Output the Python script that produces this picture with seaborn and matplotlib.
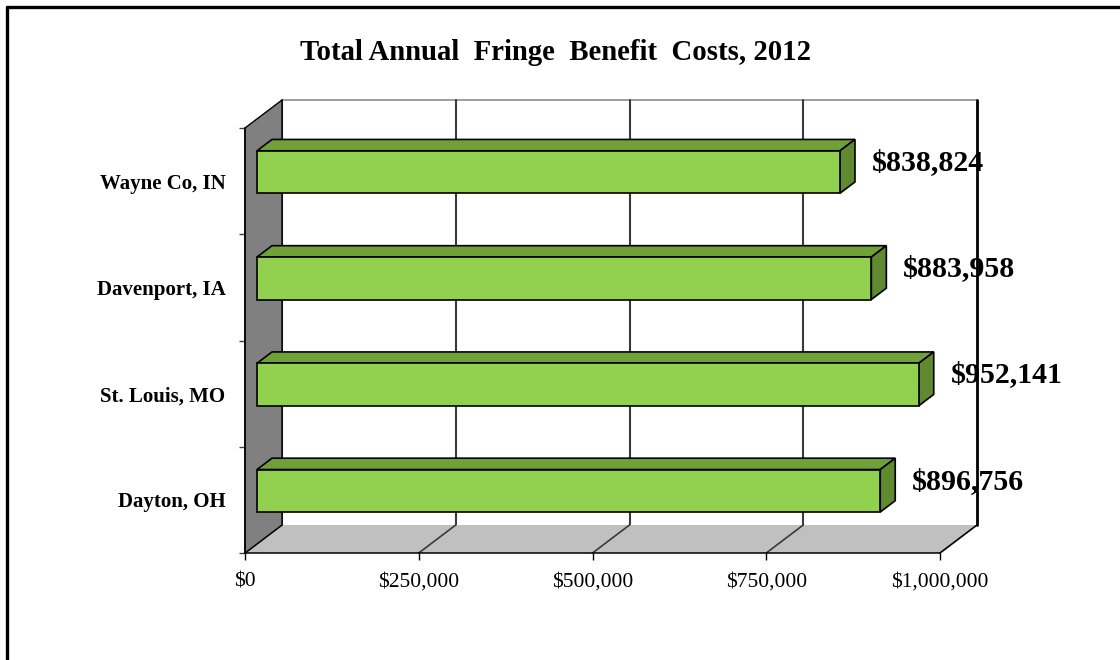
import matplotlib
matplotlib.use("Agg")
import matplotlib.pyplot as plt
import seaborn as sns
import pandas as pd
import numpy as np
from matplotlib.patches import Polygon
from matplotlib.lines import Line2D
from matplotlib.ticker import FuncFormatter

# ---- data ----
cities = ["Wayne Co, IN", "Davenport, IA", "St. Louis, MO", "Dayton, OH"]
costs = [838824, 883958, 952141, 896756]
x_ticks = [0, 250000, 500000, 750000, 1000000]
title = "Total Annual  Fringe  Benefit  Costs, 2012"

# ---- colours ----
FRONT = "#92D050"
TOP = "#70A03A"
SIDE = "#5F8A30"
WALL = "#808080"
FLOOR = "#C0C0C0"
GRID = "#3A3A3A"

sns.set_theme(style="white")
plt.rcParams["font.family"] = ["Liberation Serif", "DejaVu Serif"]
plt.rcParams["text.color"] = "black"
plt.rcParams["axes.labelcolor"] = "black"
plt.rcParams["xtick.color"] = "black"
plt.rcParams["ytick.color"] = "black"

W, H, DPI = 1120, 660, 100
fig = plt.figure(figsize=(W / DPI, H / DPI), dpi=DPI)
fig.patch.set_facecolor("white")

# front plane of the plot box (pixels)
L, R, B, T = 245, 940, 107, 532
ax = fig.add_axes([L / W, B / H, (R - L) / W, (T - B) / H])
ax.set_facecolor("none")

df = pd.DataFrame({"city": cities, "cost": costs})
sns.barplot(data=df, x="cost", y="city", orient="h", width=0.4,
            color=FRONT, saturation=1, edgecolor="black", linewidth=1.2,
            ax=ax, zorder=6)

n = len(cities)
xmax = x_ticks[-1]
ax.set_xlim(0, xmax)
ax.set_ylim(n - 0.5, -0.5)

# depth of the box, converted to data units
DEPTH_PX = (37, 28)
dx = DEPTH_PX[0] * xmax / (R - L)
dy = DEPTH_PX[1] * n / (T - B)


def shift(x, y, f):
    return (x + f * dx, y - f * dy)


y_lo, y_hi = -0.5, n - 0.5

# back wall
ax.add_patch(Polygon([shift(0, y_lo, 1), shift(xmax, y_lo, 1),
                      shift(xmax, y_hi, 1), shift(0, y_hi, 1)],
                     closed=True, facecolor="white", edgecolor="none",
                     zorder=0.5, clip_on=False))
ax.add_line(Line2D(*zip(shift(0, y_lo, 1), shift(xmax, y_lo, 1)),
                   color="#8C8C8C", lw=1.2, zorder=0.8, clip_on=False))
for xt in x_ticks:
    lw = 2.0 if xt == xmax else 1.5
    col = "black" if xt == xmax else GRID
    ax.add_line(Line2D(*zip(shift(xt, y_lo, 1), shift(xt, y_hi, 1)),
                       color=col, lw=lw, zorder=1, clip_on=False))

# floor
ax.add_patch(Polygon([(0, y_hi), (xmax, y_hi), shift(xmax, y_hi, 1), shift(0, y_hi, 1)],
                     closed=True, facecolor=FLOOR, edgecolor="none",
                     zorder=1.2, clip_on=False))
for xt in x_ticks:
    col = "black" if xt == xmax else GRID
    ax.add_line(Line2D(*zip((xt, y_hi), shift(xt, y_hi, 1)),
                       color=col, lw=1.2, zorder=1.3, clip_on=False))

# left wall
ax.add_patch(Polygon([(0, y_lo), shift(0, y_lo, 1), shift(0, y_hi, 1), (0, y_hi)],
                     closed=True, facecolor=WALL, edgecolor="black", lw=1.0,
                     zorder=1.5, clip_on=False))

# bars: front faces from seaborn, plus top and side faces
f0, f1 = 12 / 37, 27 / 37
bars = [pp for pp in ax.patches if pp.get_zorder() == 6]
for p in bars:
    x0, y0, w, h = p.get_x(), p.get_y(), p.get_width(), p.get_height()
    p.set_x(x0 + f0 * dx)
    p.set_y(y0 - f0 * dy)
    p.set_clip_on(False)
    top = [shift(x0, y0, f0), shift(x0 + w, y0, f0),
           shift(x0 + w, y0, f1), shift(x0, y0, f1)]
    side = [shift(x0 + w, y0, f0), shift(x0 + w, y0 + h, f0),
            shift(x0 + w, y0 + h, f1), shift(x0 + w, y0, f1)]
    ax.add_patch(Polygon(top, closed=True, facecolor=TOP, edgecolor="black",
                         lw=1.2, zorder=5, clip_on=False))
    ax.add_patch(Polygon(side, closed=True, facecolor=SIDE, edgecolor="black",
                         lw=1.2, zorder=5, clip_on=False))
    ax.annotate(f"${w:,.0f}", xy=shift(x0 + w, y0 + h / 2, f0),
                xytext=(23, 7), textcoords="offset points",
                ha="left", va="center", fontsize=21.5, fontweight="bold",
                color="black", zorder=8, annotation_clip=False)

# axes styling
for s in ("top", "right"):
    ax.spines[s].set_visible(False)
for s in ("left", "bottom"):
    ax.spines[s].set_color("black")
    ax.spines[s].set_linewidth(1.1)
    ax.spines[s].set_zorder(3)

ax.set_xlabel("")
ax.set_ylabel("")
ax.set_xticks(x_ticks)
ax.xaxis.set_major_formatter(FuncFormatter(lambda v, _: f"${v:,.0f}"))
ax.tick_params(axis="x", length=5, width=1, color="black", pad=9,
               labelsize=15.5, bottom=True, labelcolor="black")
ax.set_yticks(range(n))
ax.set_yticklabels(cities, fontsize=15, fontweight="bold", color="black")
ax.tick_params(axis="y", which="major", length=0, pad=14)
ax.set_yticks(np.arange(y_lo, y_hi + 0.5, 1), minor=True)
ax.tick_params(axis="y", which="minor", length=4, width=1, color="#404040", left=True)

fig.text(556 / W, 1 - 60 / H, title, ha="center", va="baseline",
         fontsize=20.7, fontweight="bold", color="black")

# outer frame
fig.add_artist(Line2D([7 / W, 1], [1 - 7 / H, 1 - 7 / H], color="black",
                      lw=2.4, transform=fig.transFigure))
fig.add_artist(Line2D([7 / W, 7 / W], [0, 1 - 7 / H], color="black",
                      lw=2.4, transform=fig.transFigure))

fig.savefig("out.png", dpi=DPI)
